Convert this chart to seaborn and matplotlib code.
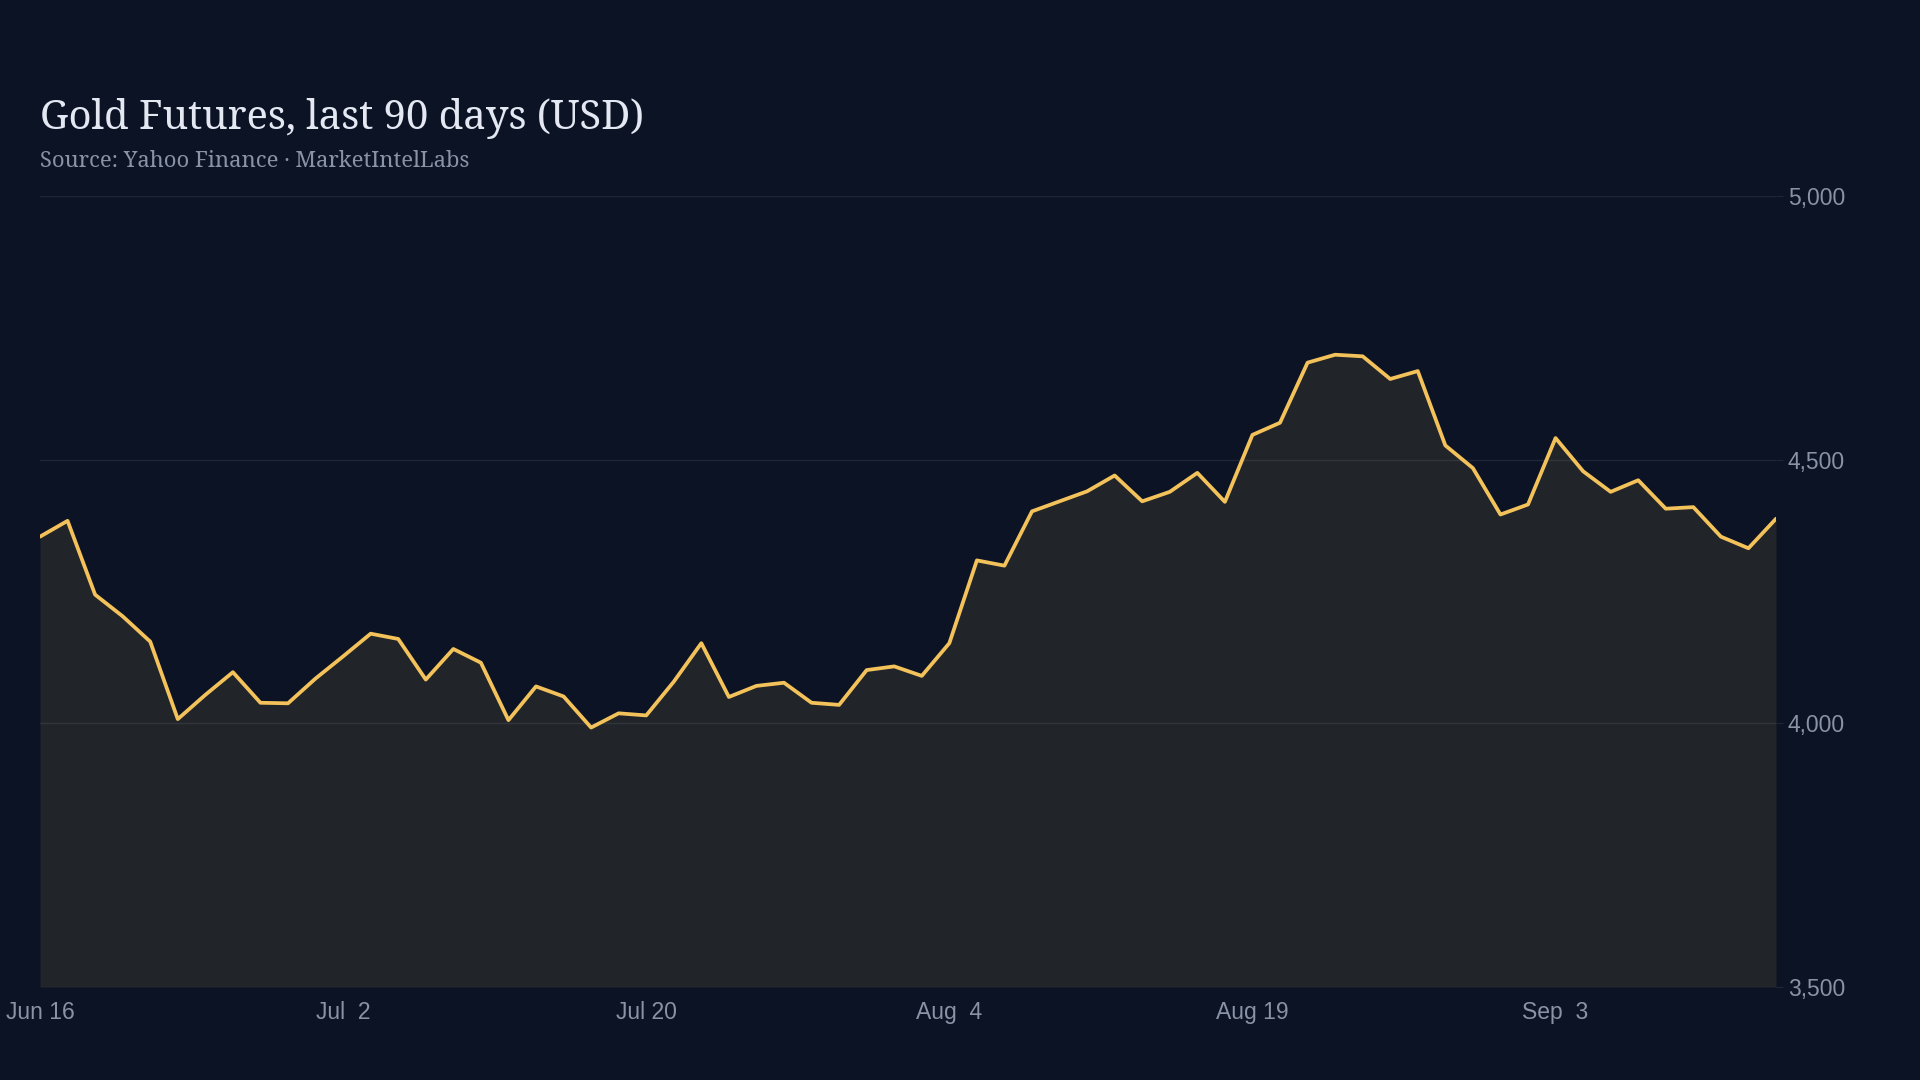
import numpy as np
import pandas as pd
import seaborn as sns
import matplotlib.pyplot as plt

# Gold futures closing prices (USD), one value per trading session
prices = [4354, 4384, 4244, 4203, 4155, 4008, 4054, 4097, 4039, 4038,
          4085, 4127, 4170, 4160, 4083, 4141, 4115, 4006, 4070, 4051,
          3992, 4019, 4015, 4079, 4152, 4050, 4071, 4077, 4039, 4035,
          4101, 4108, 4090, 4152, 4309, 4299, 4402, 4421, 4440, 4470,
          4421, 4439, 4475, 4420, 4547, 4570, 4684, 4699, 4696, 4653,
          4668, 4527, 4484, 4396, 4415, 4541, 4478, 4439, 4461, 4407,
          4410, 4354, 4332, 4388]
tick_labels = ["Jun 16", "Jul  2", "Jul 20", "Aug  4", "Aug 19", "Sep  3"]
tick_every = 11
y_ticks = [3500, 4000, 4500, 5000]

title = "Gold Futures, last 90 days (USD)"
subtitle = "Source: Yahoo Finance \u00b7 MarketIntelLabs"

df = pd.DataFrame({"session": np.arange(len(prices)), "price": prices})

BG = "#0c1324"
FILL = "#212429"
LINE = "#f3c25a"
MUTED = "#8a92a6"
GRID = "#ffffff"

sns.set_theme(style="dark")
plt.rcParams["font.family"] = ["Liberation Sans", "DejaVu Sans"]

fig = plt.figure(figsize=(19.2, 10.8), dpi=100, facecolor=BG)
ax = fig.add_axes([40 / 1920, 1 - 987 / 1080, (1776 - 40) / 1920, (987 - 196) / 1080])
ax.set_facecolor(BG)

ax.fill_between(df["session"], df["price"], y_ticks[0], color=FILL, lw=0, zorder=1)
sns.lineplot(data=df, x="session", y="price", color=LINE, linewidth=2.7, ax=ax, zorder=3)

ax.set_xlim(0, len(prices) - 1)
ax.set_ylim(y_ticks[0], y_ticks[-1])

ax.set_xticks(df["session"][::tick_every])
ax.set_xticklabels(tick_labels)
ax.set_yticks(y_ticks)
ax.set_yticklabels([f"{v:,}" for v in y_ticks])
ax.yaxis.tick_right()

ax.set_axisbelow(False)
ax.yaxis.grid(True, color=GRID, alpha=0.08, linewidth=1)
ax.xaxis.grid(False)
ax.tick_params(axis="x", length=0, pad=10, labelsize=16.5, labelcolor=MUTED)
ax.tick_params(axis="y", length=5, width=0.8, color="#1f2737", pad=3.5,
               labelsize=16.5, labelcolor=MUTED)
ax.set_xlabel("")
ax.set_ylabel("")
for s in ax.spines.values():
    s.set_visible(False)

fig.text(40 / 1920, 1 - 129 / 1080, title, fontsize=28.8, color="#e4e8f2",
         family=["Noto Serif", "DejaVu Serif"], va="baseline", ha="left")
fig.text(40 / 1920, 1 - 167 / 1080, subtitle, fontsize=15.8, color=MUTED,
         family=["Noto Serif", "DejaVu Serif"], va="baseline", ha="left")

fig.savefig("out.png", dpi=100, facecolor=BG)
